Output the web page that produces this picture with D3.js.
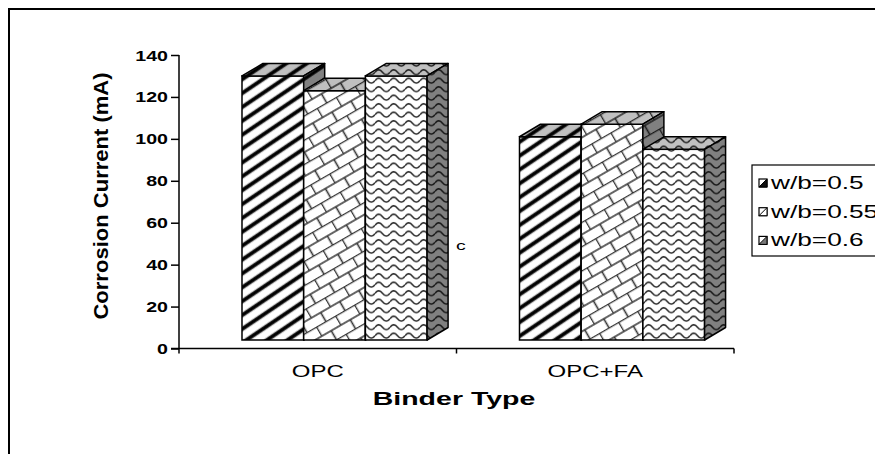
<!DOCTYPE html>
<html>
<head>
<meta charset="utf-8">
<script src="https://cdn.jsdelivr.net/npm/d3@7"></script>
<style>
  body { margin: 0; background: #fff; }
  svg { display: block; font-family: Arial, "Liberation Sans", sans-serif; }
</style>
</head>
<body>
<script>
const categories = ["OPC", "OPC+FA"]; //Binder types on the x-axis.
const seriesNames = ["w/b=0.5", "w/b=0.55", "w/b=0.6"]; //Legend entries.
const wb050 = [130, 101]; //w/b=0.5 values.
const wb055 = [123, 107]; //w/b=0.55 values.
const wb060 = [130, 95];  //w/b=0.6 values.
const yTicks = [0, 20, 40, 60, 80, 100, 120, 140];

const svgWidth = 875;
const svgHeight = 454;
const stretch = 1.5; //Text in the picture is drawn wide.
const depthX = 21, depthY = -12.5; //3D offset of the columns.
const floorLift = 8.5; //Columns stand a little above the axis line.

const seriesValues = [wb050, wb055, wb060];
const patternTypes = ["stripe", "brick", "wave"];
const legendInk = ["#111", "#fff", "#777"];

const svg = d3.select("body").append("svg")
  .attr("width", svgWidth)
  .attr("height", svgHeight);

const defs = svg.append("defs");

//Builds one fill pattern of a given kind on a given background.
function makePattern(id, type, bg, ink) {
  if (type === "stripe") {
    const p = defs.append("pattern").attr("id", id)
      .attr("patternUnits", "userSpaceOnUse")
      .attr("width", 10).attr("height", 11.5)
      .attr("patternTransform", "rotate(-34)");
    p.append("rect").attr("width", 10).attr("height", 11.5).attr("fill", bg);
    p.append("rect").attr("y", 3.2).attr("width", 10).attr("height", 5).attr("fill", "#777").attr("opacity", 0.6);
    p.append("rect").attr("y", 4).attr("width", 10).attr("height", 3.4).attr("fill", ink);
  } else if (type === "brick") {
    const p = defs.append("pattern").attr("id", id)
      .attr("patternUnits", "userSpaceOnUse")
      .attr("width", 22).attr("height", 21)
      .attr("patternTransform", "rotate(-30)");
    p.append("rect").attr("width", 22).attr("height", 21).attr("fill", bg);
    p.append("path")
      .attr("d", "M0,0.5H22M0,11H22M0.5,0V11M11.5,11V21")
      .attr("stroke", ink).attr("stroke-width", 1.6).attr("fill", "none").attr("opacity", 0.8);
  } else {
    const p = defs.append("pattern").attr("id", id)
      .attr("patternUnits", "userSpaceOnUse")
      .attr("width", 15).attr("height", 8.5);
    p.append("rect").attr("width", 15).attr("height", 8.5).attr("fill", bg);
    p.append("path")
      .attr("d", "M0,4.2 C2.5,1 5,1 7.5,4.2 S12.5,7.4 15,4.2")
      .attr("stroke", ink).attr("stroke-width", 1.5).attr("fill", "none").attr("opacity", 0.85);
  }
}

patternTypes.forEach(t => {
  makePattern("front-" + t, t, "#ffffff", "#000");
  makePattern("top-" + t, t, "#c0c0c0", "#000");
  makePattern("side-" + t, t, "#808080", "#000");
});

//Outer chart border.
svg.append("rect")
  .attr("x", 9).attr("y", 9)
  .attr("width", 900).attr("height", 500)
  .attr("fill", "none").attr("stroke", "#000").attr("stroke-width", 2);

//Scales.
const xScale = d3.scaleBand()
  .domain(categories)
  .range([179, 734]);

const innerScale = d3.scaleBand() //Position of each series inside a category.
  .domain(seriesNames)
  .range([xScale.bandwidth() * 0.227, xScale.bandwidth() * 0.894]);

const yScale = d3.scaleLinear()
  .domain([0, 140])
  .range([348.5, 55]);

//Columns.
const base = yScale(0) - floorLift;
categories.forEach((cat, ci) => {
  seriesNames.forEach((s, si) => {
    const v = seriesValues[si][ci];
    const t = patternTypes[si];
    const x0 = xScale(cat) + innerScale(s);
    const x1 = x0 + innerScale.bandwidth();
    const yt = yScale(v);
    const g = svg.append("g").attr("class", "column");
    g.append("rect")
      .attr("x", x0).attr("y", yt)
      .attr("width", x1 - x0).attr("height", base - yt)
      .attr("fill", "url(#front-" + t + ")")
      .attr("stroke", "#000").attr("stroke-width", 1.5);
    g.append("path")
      .attr("d", `M${x0},${yt}L${x0 + depthX},${yt + depthY}L${x1 + depthX},${yt + depthY}L${x1},${yt}Z`)
      .attr("fill", "url(#top-" + t + ")")
      .attr("stroke", "#000").attr("stroke-width", 1.5).attr("stroke-linejoin", "round");
    g.append("path")
      .attr("d", `M${x1},${yt}L${x1 + depthX},${yt + depthY}L${x1 + depthX},${base + depthY}L${x1},${base}Z`)
      .attr("fill", "url(#side-" + t + ")")
      .attr("stroke", "#000").attr("stroke-width", 1.5).attr("stroke-linejoin", "round");
  });
});

//Y-axis.
const yAxis = svg.append("g")
  .attr("id", "y-axis")
  .attr("transform", "translate(179,0)")
  .call(d3.axisLeft(yScale).tickValues(yTicks).tickSize(8).tickPadding(3));
yAxis.select(".domain").attr("stroke-width", 1.5).attr("d", `M0,${yScale(140)}V${yScale(0)}`);
yAxis.selectAll(".tick line").attr("stroke-width", 1.5);
yAxis.selectAll(".tick text")
  .attr("x", -11 / 1.4)
  .attr("dy", "0.36em")
  .attr("transform", "scale(1.4,1)")
  .attr("font-size", 14)
  .attr("font-weight", "bold")
  .attr("font-family", "Arial, 'Liberation Sans', sans-serif")
  .attr("fill", "#000");

//X-axis line and its ticks at the category edges.
const xEdges = categories.map(c => xScale(c)).concat([xScale(categories[1]) + xScale.bandwidth()]);
svg.append("line")
  .attr("x1", xEdges[0] - 8).attr("x2", xEdges[2])
  .attr("y1", yScale(0)).attr("y2", yScale(0))
  .attr("stroke", "#000").attr("stroke-width", 1.5);
svg.selectAll(".xtick")
  .data(xEdges)
  .enter().append("line")
  .attr("class", "xtick")
  .attr("x1", d => d).attr("x2", d => d)
  .attr("y1", yScale(0)).attr("y2", yScale(0) + 5)
  .attr("stroke", "#000").attr("stroke-width", 1.5);

//Category labels.
svg.selectAll(".xlabel")
  .data(categories)
  .enter().append("text")
  .attr("class", "xlabel")
  .attr("transform", d => `translate(${xScale(d) + xScale.bandwidth() / 2},377) scale(${stretch},1)`)
  .attr("text-anchor", "middle")
  .attr("font-size", 16)
  .text(d => d);

//Axis titles.
svg.append("text")
  .attr("transform", `translate(454,405) scale(${stretch},1)`)
  .attr("text-anchor", "middle")
  .attr("font-size", 19)
  .attr("font-weight", "bold")
  .text("Binder Type");

svg.append("text")
  .attr("transform", "translate(108,196) rotate(-90) scale(1.13,1)")
  .attr("text-anchor", "middle")
  .attr("font-size", 19.5)
  .attr("font-weight", "bold")
  .text("Corrosion Current (mA)");

//Stray "c" next to the first group.
svg.append("text")
  .attr("transform", `translate(456,250) scale(${stretch},1)`)
  .attr("font-size", 13)
  .text("c");

//Legend.
svg.append("rect")
  .attr("x", 752).attr("y", 165)
  .attr("width", 140).attr("height", 91)
  .attr("fill", "#fff").attr("stroke", "#000").attr("stroke-width", 1.2);

const legend = svg.selectAll(".legend")
  .data(seriesNames)
  .enter().append("g")
  .attr("class", "legend")
  .attr("transform", (d, i) => `translate(0,${183 + i * 28.7})`);

legend.append("rect")
  .attr("x", 759).attr("y", -4)
  .attr("width", 8).attr("height", 8)
  .attr("fill", "#fff")
  .attr("stroke", "#000").attr("stroke-width", 1.2);

legend.append("path")
  .attr("d", "M767,-4L767,4L759,4Z")
  .attr("fill", (d, i) => legendInk[i])
  .attr("stroke", "#000").attr("stroke-width", 1);

legend.append("text")
  .attr("transform", `translate(771,6) scale(${stretch},1)`)
  .attr("font-size", 17.5)
  .text(d => d);
</script>
</body>
</html>
